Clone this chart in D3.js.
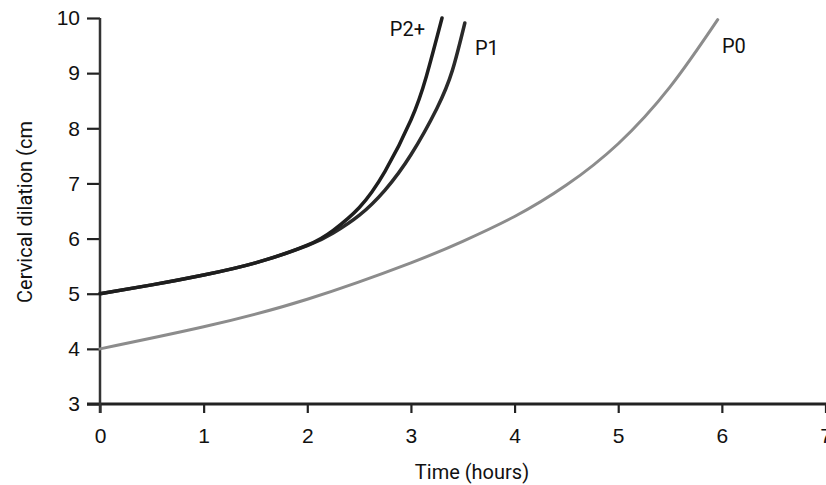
<!DOCTYPE html>
<html>
<head>
<meta charset="utf-8">
<script src="https://cdn.jsdelivr.net/npm/d3@7"></script>
<style>
  body { margin: 0; background: #fff; }
  svg { display: block; font-family: "Liberation Sans Narrow", Roboto, sans-serif; }
</style>
</head>
<body>
<svg id="chart"></svg>
<script>
// hours after start, cervical dilation (cm)
const p0Hours = [0, 1, 2, 3, 3.5, 4, 4.5, 5, 5.5, 5.96];
const p0Dil   = [4.0, 4.40, 4.90, 5.56, 5.95, 6.40, 6.97, 7.72, 8.75, 9.97];

const p1Hours = [0, 0.5, 1, 1.5, 2, 2.25, 2.5, 2.75, 3.0, 3.25, 3.4, 3.52];
const p1Dil   = [5.0, 5.16, 5.34, 5.56, 5.87, 6.10, 6.42, 6.88, 7.52, 8.36, 9.05, 9.91];

const p2Hours = [0, 0.5, 1, 1.5, 2, 2.25, 2.5, 2.75, 3.0, 3.15, 3.3];
const p2Dil   = [5.0, 5.16, 5.34, 5.56, 5.88, 6.15, 6.56, 7.22, 8.15, 8.95, 10.0];

const xTicks = [0, 1, 2, 3, 4, 5, 6, 7];
const yTicks = [3, 4, 5, 6, 7, 8, 9, 10];

const W = 826, H = 485;
const svg = d3.select("#chart").attr("width", W).attr("height", H);

const x = d3.scaleLinear().domain([0, 7]).range([100, 825.5]);
const y = d3.scaleLinear().domain([3, 10]).range([404, 18]);

// axes
const xAxis = d3.axisBottom(x).tickValues(xTicks).tickFormat(d3.format("d"))
  .tickSize(9).tickSizeOuter(0).tickPadding(10);
const yAxis = d3.axisLeft(y).tickValues(yTicks).tickFormat(d3.format("d"))
  .tickSize(13).tickSizeOuter(0).tickPadding(7);

const gx = svg.append("g").attr("transform", `translate(0,${y(3)})`).call(xAxis);
const gy = svg.append("g").attr("transform", `translate(${x(0)},0)`).call(yAxis);

[gx, gy].forEach(g => {
  g.select(".domain").remove();
  g.selectAll(".tick line").attr("stroke", "#222").attr("stroke-width", 2.2);
  g.selectAll(".tick text").attr("fill", "#111").style("font-size", "21px");
});
gx.selectAll(".tick text").attr("dy", "0.95em");

// axis lines, both run a little past the corner
svg.append("line")
  .attr("x1", x(0) - 13).attr("x2", W)
  .attr("y1", y(3)).attr("y2", y(3))
  .attr("stroke", "#222").attr("stroke-width", 3);
svg.append("line")
  .attr("x1", x(0)).attr("x2", x(0))
  .attr("y1", y(10)).attr("y2", y(3) + 9)
  .attr("stroke", "#333").attr("stroke-width", 2.5);

// axis titles
svg.append("text")
  .attr("x", 472).attr("y", 479)
  .attr("text-anchor", "middle")
  .attr("fill", "#111")
  .style("font-size", "20px")
  .text("Time (hours)");

svg.append("text")
  .attr("transform", `translate(32,212) rotate(-90)`)
  .attr("text-anchor", "middle")
  .attr("fill", "#111")
  .style("font-size", "20px")
  .text("Cervical dilation (cm");

// curves
const line = d3.line()
  .x(d => x(d[0]))
  .y(d => y(d[1]))
  .curve(d3.curveNatural);

const series = [
  { name: "P0", hours: p0Hours, dil: p0Dil, color: "#8c8c8c", width: 3 },
  { name: "P1", hours: p1Hours, dil: p1Dil, color: "#2a2a2a", width: 3.5 },
  { name: "P2+", hours: p2Hours, dil: p2Dil, color: "#1e1e1e", width: 3.5 }
];

svg.selectAll(".curve")
  .data(series)
  .join("path")
    .attr("class", "curve")
    .attr("d", s => line(d3.zip(s.hours, s.dil)))
    .attr("fill", "none")
    .attr("stroke", s => s.color)
    .attr("stroke-width", s => s.width)
    .attr("stroke-linecap", "round");

// curve labels
svg.append("text").attr("x", 425).attr("y", 36).attr("text-anchor", "end")
  .attr("fill", "#111").style("font-size", "20px").text("P2+");
svg.append("text").attr("x", 475).attr("y", 55)
  .attr("fill", "#111").style("font-size", "20px").text("P1");
svg.append("text").attr("x", 722).attr("y", 53)
  .attr("fill", "#111").style("font-size", "20px").text("P0");
</script>
</body>
</html>
